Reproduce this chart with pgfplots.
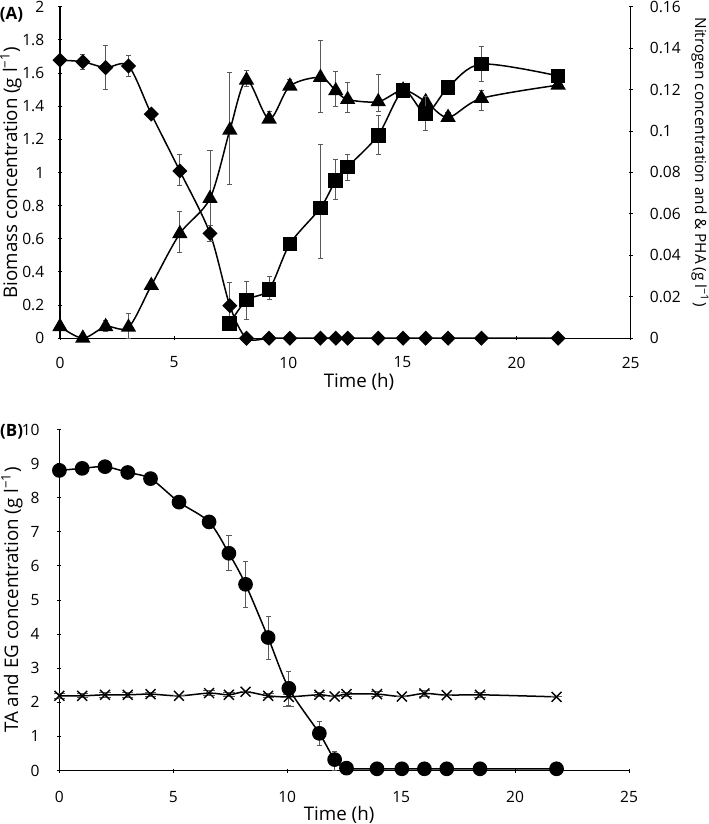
\documentclass[border=0pt]{standalone}
\usepackage{fontspec}
\setmainfont{Open Sans}
\usepackage{pgfplots}
\usepackage{pgfplotstable}
\pgfplotsset{compat=1.18}

% Panel A: nitrogen (diamonds, right axis, g/l)
\pgfplotstableread{
t     v       ep      em
0     0.1342  0       0
1     0.1334  0.0036  0.0036
2     0.1306  0.0109  0.0106
3     0.1314  0.0053  0.0050
4     0.1082  0       0
5.25  0.0807  0.0078  0.0072
6.57  0.0506  0.0040  0.0040
7.44  0.0157  0.0110  0.0110
8.17  0       0       0
9.16  0       0       0
10.07 0       0       0
11.41 0       0       0
12.08 0       0       0
12.6  0       0       0
13.94 0       0       0
15.03 0       0       0
16.02 0       0       0
17.0  0       0       0
18.46 0       0       0
21.82 0       0       0
}\nitrogen

% Panel A: biomass (triangles, left axis, g/l)
\pgfplotstableread{
t     v      ep     em
0     0.070  0      0
1     0.000  0      0
2     0.070  0.040  0.030
3     0.066  0.084  0.066
4     0.318  0      0
5.25  0.631  0.131  0.114
6.57  0.843  0.291  0.200
7.44  1.255  0.348  0.326
8.17  1.557  0.060  0.040
9.16  1.322  0.044  0.020
10.07 1.521  0.042  0.020
11.41 1.573  0.222  0.213
12.08 1.493  0.116  0.093
12.6  1.440  0.105  0.075
13.94 1.427  0.166  0.060
15.03 1.497  0      0
16.02 1.427  0.030  0.030
17.0  1.332  0.030  0.010
18.46 1.447  0.050  0.070
21.82 1.527  0      0
}\biomass

% Panel A: PHA (squares, right axis, g/l)
\pgfplotstableread{
t     v       ep      em
7.44  0.0072  0       0
8.17  0.0184  0.0091  0.0093
9.16  0.0236  0.0060  0.0048
10.07 0.0455  0       0
11.41 0.0629  0.0306  0.0245
12.08 0.0762  0.0100  0.0094
12.6  0.0827  0.0061  0.0064
13.94 0.0980  0.0097  0.0092
15.03 0.1194  0       0
16.02 0.1084  0.0082  0.0080
17.0  0.1210  0       0
18.46 0.1323  0.0083  0.0086
21.82 0.1266  0       0
}\pha

% Panel B: TA (circles)
\pgfplotstableread{
t     v     ep    em
0     8.80  0     0
1     8.86  0     0
2     8.91  0     0
3     8.74  0     0
4     8.56  0.10  0.10
5.25  7.87  0     0
6.57  7.29  0     0
7.44  6.37  0.53  0.49
8.17  5.46  0.66  0.68
9.16  3.90  0.61  0.64
10.07 2.41  0.49  0.49
11.41 1.09  0.34  0.36
12.08 0.32  0.24  0.32
12.6  0.07  0     0
13.94 0.05  0     0
15.03 0.05  0     0
16.02 0.05  0     0
17.0  0.05  0     0
18.46 0.05  0     0
21.82 0.05  0     0
}\ta

% Panel B: EG (crosses)
\pgfplotstableread{
t     v     ep    em
0     2.19  0.08  0.08
1     2.19  0.06  0.06
2     2.22  0.08  0.08
3     2.22  0.08  0.08
4     2.24  0.06  0.06
5.25  2.19  0     0
6.57  2.27  0.08  0.08
7.44  2.22  0.06  0.06
8.17  2.31  0     0
9.16  2.19  0.06  0.06
10.07 2.16  0.08  0.28
11.41 2.22  0.06  0.06
12.08 2.17  0     0
12.6  2.24  0.06  0.06
13.94 2.24  0.08  0.08
15.03 2.17  0     0
16.02 2.26  0.08  0.08
17.0  2.21  0     0
18.46 2.22  0.08  0.08
21.82 2.16  0     0
}\eg

\pgfplotsset{
  mystyle/.style={
    scale only axis,
    anchor=north west,
    xmin=0, xmax=25, xtick={0,5,10,15,20,25},
    tick align=inside,
    major tick length=2bp,
    tick style={black, line width=0.5bp},
    /pgf/number format/assume math mode=true,
    tick label style={font=\fontsize{7.8}{9}\selectfont},
    clip=false,
    scaled ticks=false,
    error bars/error bar style={line width=0.45bp, black!65},
    error bars/error mark options={line width=0.45bp, black!65, mark size=1.3bp, rotate=90},
  },
  noarrows/.style={
    axis line style={-, line width=0.6bp, black},
    every outer x axis line/.append style={-},
    every outer y axis line/.append style={-},
    every inner x axis line/.append style={-},
    every inner y axis line/.append style={-},
    x axis line style={-},
    y axis line style={-},
  },
  myline/.style={black, line width=0.75bp, smooth, tension=0.5},
}

\begin{document}
\begin{tikzpicture}
\path[use as bounding box] (0,0) rectangle (354.5bp,-412bp);

% ---------------- Panel A ----------------
\begin{axis}[mystyle,
  at={(30bp,-3.35bp)}, width=285.35bp, height=165.75bp,
  ymin=0, ymax=2, ytick={0,0.2,0.4,0.6,0.8,1,1.2,1.4,1.6,1.8,2},
  axis x line=bottom, axis y line=left, noarrows,
  yticklabel style={xshift=-3.4bp},
  xticklabel style={yshift=-4.8bp},
  ylabel={Biomass concentration (g l\textsuperscript{−1})},
  ylabel style={at={(axis description cs:-0.0859,0.5)}, anchor=center, font=\fontsize{9.4}{11}\selectfont},
  xlabel={Time (h)},
  xlabel style={at={(axis description cs:0.524,-0.131)}, anchor=center, font=\fontsize{9.4}{11}\selectfont},
]
\addplot[myline, mark=triangle*, mark size=3.7bp, mark options={fill=black, solid},
  error bars/.cd, y dir=both, y explicit]
  table[x=t, y=v, y error plus=ep, y error minus=em] {\biomass};
\end{axis}

\begin{axis}[mystyle,
  at={(30bp,-3.35bp)}, width=285.35bp, height=165.75bp,
  ymin=0, ymax=0.16, ytick={0,0.02,0.04,0.06,0.08,0.1,0.12,0.14,0.16},
  yticklabel style={/pgf/number format/fixed, /pgf/number format/precision=2, xshift=5.1bp},
  axis x line=none, axis y line=right, noarrows,
  ylabel={Nitrogen concentration and \& PHA (g l\textsuperscript{−1})},
  ylabel style={at={(axis description cs:1.1214,0.5315)}, anchor=center, rotate=180, font=\fontsize{7.7}{9}\selectfont},
]
\addplot[myline, mark=square*, mark size=2.3bp, mark options={fill=black, rotate=45, solid},
  error bars/.cd, y dir=both, y explicit]
  table[x=t, y=v, y error plus=ep, y error minus=em] {\nitrogen};
\addplot[myline, mark=square*, mark size=3.3bp, mark options={fill=black, solid},
  error bars/.cd, y dir=both, y explicit]
  table[x=t, y=v, y error plus=ep, y error minus=em] {\pha};
\end{axis}

% ---------------- Panel B ----------------
\begin{axis}[mystyle,
  at={(29.7bp,-214.75bp)}, width=284.8bp, height=170.5bp,
  ymin=0, ymax=10, ytick={0,1,2,3,4,5,6,7,8,9,10},
  axis x line=bottom, axis y line=left, noarrows,
  yticklabel style={xshift=-5.4bp},
  xticklabel style={yshift=-5.7bp},
  ylabel={TA and EG concentration (g l\textsuperscript{−1})},
  ylabel style={at={(axis description cs:-0.0832,0.5)}, anchor=center, font=\fontsize{9.4}{11}\selectfont},
  xlabel={Time (h)},
  xlabel style={at={(axis description cs:0.491,-0.1305)}, anchor=center, font=\fontsize{9.4}{11}\selectfont},
]
\addplot[myline, mark=x, mark size=3.5bp, mark options={line width=0.7bp, solid},
  error bars/.cd, y dir=both, y explicit,
  error mark options={line width=0.45bp, black!65, mark size=2.8bp, rotate=90}]
  table[x=t, y=v, y error plus=ep, y error minus=em] {\eg};
\addplot[myline, mark=*, mark size=3.3bp, mark options={fill=black, solid},
  error bars/.cd, y dir=both, y explicit]
  table[x=t, y=v, y error plus=ep, y error minus=em] {\ta};
\end{axis}

\node[font=\fontsize{8.5}{10}\selectfont\bfseries] at (5.75bp,-7.25bp) {(A)};
\node[font=\fontsize{8.5}{10}\selectfont\bfseries] at (5.8bp,-216bp) {(B)};
\end{tikzpicture}
\end{document}
